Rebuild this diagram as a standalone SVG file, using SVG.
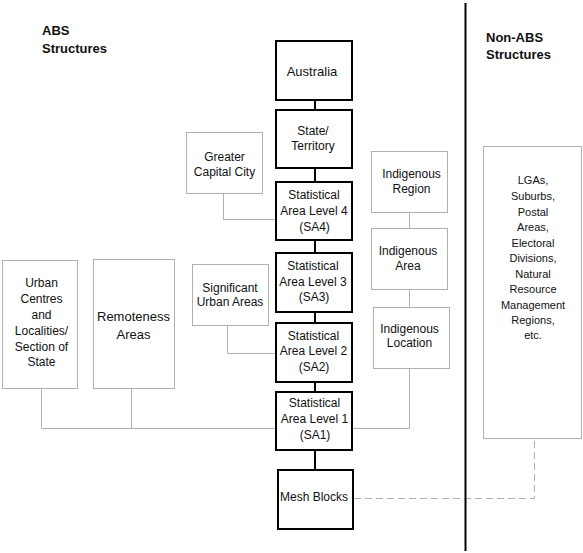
<svg xmlns="http://www.w3.org/2000/svg" width="583" height="553" viewBox="0 0 583 553">
<style>
text{font-family:"Liberation Sans",Arial,sans-serif;fill:#111;text-anchor:middle;font-size:12px}
.title{font-weight:bold;font-size:13px;text-anchor:start}
.big{font-size:13px}
.sm{font-size:11px}
.main{fill:#fff;stroke:#000;stroke-width:2}
.aux{fill:#fff;stroke:#b0b0b0;stroke-width:1}
.mc{stroke:#000;stroke-width:2;fill:none}
.gc{stroke:#b0b0b0;stroke-width:1;fill:none}
.dc{stroke:#b0b0b0;stroke-width:1;fill:none;stroke-dasharray:7 4}
</style>
<rect width="583" height="553" fill="#fff"/>
<g id="connectors">
<path class="mc" d="M315 101V109M315 169V181M315 241V252M315 313V322M315 383V391M315 451V469"/>
<path class="gc" d="M223.5 193.5V219.5H275"/>
<path class="gc" d="M227.5 325.5V353.5H275"/>
<path class="gc" d="M409.5 212.5V228.5M409.5 289.5V307.5"/>
<path class="gc" d="M409.5 368.5V428.5H353"/>
<path class="gc" d="M41.5 388.5V428.5H275M131.5 388.5V428.5"/>
<path class="dc" d="M354 498.5H534.5V438.5"/>
</g>
<g id="divider"><line x1="465.5" y1="3" x2="465.5" y2="551" stroke="#000" stroke-width="2"/></g>
<g id="titles">
<text class="title" x="42" y="34.5">ABS</text>
<text class="title" x="42" y="52.5">Structures</text>
<text class="title" x="486" y="41.5">Non-ABS</text>
<text class="title" x="486" y="59">Structures</text>
</g>
<g id="australia"><rect class="main" x="276" y="41" width="76" height="59"/><text class="big" x="312" y="76">Australia</text></g>
<g id="state"><rect class="main" x="276" y="110" width="76" height="58"/><text x="313" y="135">State/</text><text x="313" y="150">Territory</text></g>
<g id="sa4"><rect class="main" x="276" y="182" width="76" height="58"/><text x="314" y="199">Statistical</text><text x="314" y="215">Area Level 4</text><text x="314.5" y="231">(SA4)</text></g>
<g id="sa3"><rect class="main" x="276" y="253" width="76" height="59"/><text x="313" y="270">Statistical</text><text x="313" y="285.5">Area Level 3</text><text x="314" y="301">(SA3)</text></g>
<g id="sa2"><rect class="main" x="276" y="323" width="76" height="59"/><text x="313.5" y="339.5">Statistical</text><text x="313.5" y="355">Area Level 2</text><text x="314" y="370.5">(SA2)</text></g>
<g id="sa1"><rect class="main" x="276" y="392" width="76" height="58"/><text x="314.5" y="407">Statistical</text><text x="314.5" y="423">Area Level 1</text><text x="315" y="439">(SA1)</text></g>
<g id="meshblocks"><rect class="main" x="278" y="470" width="75" height="59"/><text x="314" y="500.5">Mesh Blocks</text></g>
<g id="gcc"><rect class="aux" x="186.5" y="132.5" width="76" height="61"/><text x="224.5" y="160.5">Greater</text><text x="224.5" y="175.5">Capital City</text></g>
<g id="sua"><rect class="aux" x="192.5" y="264.5" width="76" height="61"/><text x="230" y="291.5">Significant</text><text x="230" y="305.5">Urban Areas</text></g>
<g id="ucl"><rect class="aux" x="2.5" y="260.5" width="75" height="128"/><text x="41.5" y="287">Urban</text><text x="41.5" y="303">Centres</text><text x="41.5" y="319">and</text><text x="41.5" y="335">Localities/</text><text x="41.5" y="350.5">Section of</text><text x="41.5" y="366">State</text></g>
<g id="remoteness"><rect class="aux" x="93.5" y="259.5" width="81" height="129"/><text class="big" x="133.5" y="320.5">Remoteness</text><text class="big" x="133.5" y="338.5">Areas</text></g>
<g id="ireg"><rect class="aux" x="371.5" y="151.5" width="76" height="61"/><text x="411.5" y="178">Indigenous</text><text x="411.5" y="192.5">Region</text></g>
<g id="iarea"><rect class="aux" x="371.5" y="228.5" width="76" height="61"/><text x="408" y="255">Indigenous</text><text x="408" y="269.5">Area</text></g>
<g id="iloc"><rect class="aux" x="373.5" y="307.5" width="76" height="61"/><text x="409.5" y="332.5">Indigenous</text><text x="409.5" y="347">Location</text></g>
<g id="nonabs"><rect class="aux" x="483.5" y="146.5" width="98" height="292"/>
<text class="sm" x="533" y="184.3">LGAs,</text><text class="sm" x="533" y="200">Suburbs,</text><text class="sm" x="533" y="215.7">Postal</text><text class="sm" x="533" y="231">Areas,</text><text class="sm" x="533" y="246.7">Electoral</text><text class="sm" x="533" y="262.3">Divisions,</text><text class="sm" x="533" y="277.7">Natural</text><text class="sm" x="533" y="293.3">Resource</text><text class="sm" x="533" y="309">Management</text><text class="sm" x="533" y="324.3">Regions,</text><text class="sm" x="533" y="339.3">etc.</text></g>
</svg>
